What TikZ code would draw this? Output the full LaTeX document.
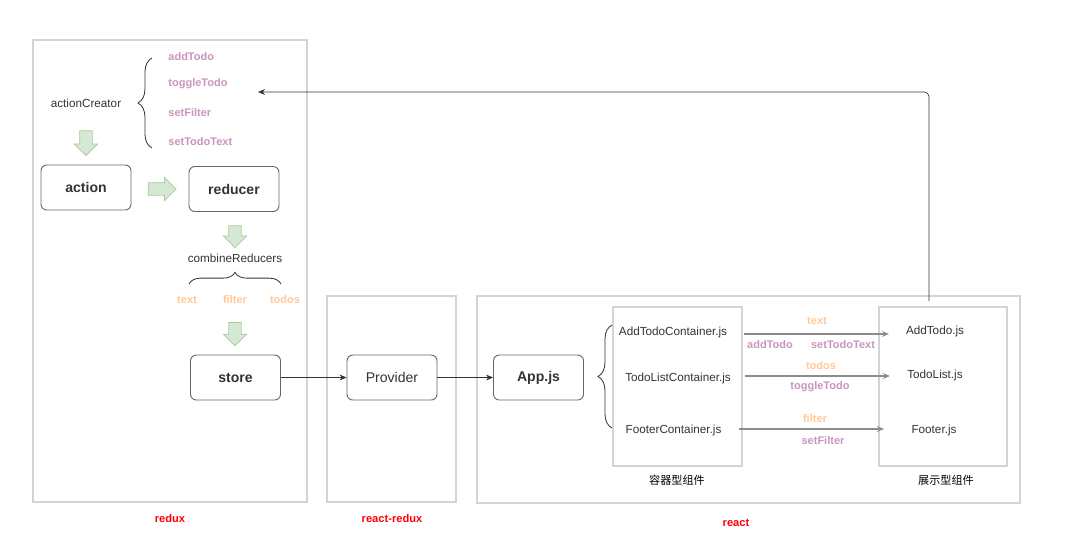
\documentclass[tikz,border=0pt]{standalone}
\usepackage{fontspec}
\setmainfont{Liberation Sans}
\newfontfamily\cjk{Noto Sans CJK SC}
\usetikzlibrary{arrows.meta,shapes.arrows,decorations.pathreplacing,positioning}

\definecolor{txt}{HTML}{333333}
\definecolor{pinktxt}{HTML}{C995BD}
\definecolor{orangetxt}{HTML}{FFC898}
\definecolor{grpline}{HTML}{D4D4D4}
\definecolor{boxline}{HTML}{666666}
\definecolor{flowfill}{HTML}{D5E8D4}
\definecolor{flowline}{HTML}{A8CC98}
\definecolor{garrowline}{HTML}{8C8C8C}
\definecolor{grpname}{HTML}{FF0000}

\begin{document}
\begin{tikzpicture}[x=0.03cm,y=-0.03cm]
      \tikzstyle{grp}=[draw=grpline,line width=1.2pt]
      \tikzstyle{box}=[rectangle,rounded corners=5pt,draw=boxline,line width=0.8pt,minimum width=2.7cm,minimum height=1.35cm,text=txt,font=\fontsize{12}{14}\selectfont]
      \tikzstyle{lbl}=[text=txt,font=\fontsize{10}{12}\selectfont,inner sep=1pt]
      \tikzstyle{act}=[text=pinktxt,font=\bfseries\fontsize{9.4}{11}\selectfont,inner sep=1pt]
      \tikzstyle{part}=[text=orangetxt,font=\bfseries\fontsize{9.4}{11}\selectfont,inner sep=1pt]
      \tikzstyle{grplbl}=[text=grpname,font=\bfseries\fontsize{9.5}{11}\selectfont]
      \tikzstyle{cjklbl}=[text=black,font=\cjk\fontsize{9.5}{11}\selectfont]
      \tikzstyle{flow}=[single arrow,draw=flowline,fill=flowfill,line width=0.6pt,inner xsep=0pt,inner ysep=0.18cm,minimum height=0.75cm,single arrow head extend=0.16cm]
      \tikzstyle{flowdown}=[flow,shape border rotate=270,inner xsep=0.18cm,inner ysep=0pt]
      \tikzstyle{brc}=[draw=txt,line width=0.7pt,decorate]
      \tikzstyle{link}=[draw=txt,line width=0.6pt,-{Stealth[length=6pt,width=5pt]}]
      \tikzstyle{garrow}=[draw=garrowline,line width=1.6pt,-{Stealth[length=6pt,width=5pt]}]

      \useasboundingbox (0,0) rectangle (1070,549);

      % groups
      \draw[grp] (33,40) rectangle (307,502);
      \draw[grp] (327,296) rectangle (456,502);
      \draw[grp] (477,296) rectangle (1020,503);
      \draw[grp] (613,307) rectangle (742,466);
      \draw[grp] (879,307) rectangle (1007,466);
      \node[grplbl] (reduxlbl) at (170,519) {redux};
      \node[grplbl] (reactreduxlbl) at (392,519) {react-redux};
      \node[grplbl] (reactlbl) at (736,523) {react};

      % redux
      \node[lbl] (creator) at (86,103) {actionCreator};
      \draw[brc,decoration={brace,amplitude=12pt}] (152,148) -- (152,58);
      \node[act,anchor=west] (addtodo) at (167,57) {addTodo};
      \node[act,anchor=west] (toggletodo) at (167,84) {toggleTodo};
      \node[act,anchor=west] (setfilter) at (167,113) {setFilter};
      \node[act,anchor=west] (settext) at (167,142) {setTodoText};
      \coordinate (creatorin) at (258,92);

      \node[flowdown] (flow1) at (86,140) {};
      \node[box,font=\bfseries\fontsize{12}{14}\selectfont] (action) at (86,187.5) {action};
      \node[flow,minimum height=0.84cm] (flow2) at (159,189) {};
      \node[box,font=\bfseries\fontsize{12}{14}\selectfont] (reducer) at (234,189) {reducer};
      \node[flowdown,minimum height=0.66cm] (flow3) at (235,233.5) {};
      \node[lbl] (combine) at (235,258) {combineReducers};
      \draw[brc,decoration={brace,amplitude=10pt}] (189,284) -- (281,284);
      \node[part] (ptext) at (187,300) {text};
      \node[part] (pfilter) at (235,300) {filter};
      \node[part] (ptodos) at (285,300) {todos};
      \node[flowdown,minimum height=0.7cm] (flow4) at (235,331) {};
      \node[box,font=\bfseries\fontsize{12}{14}\selectfont] (store) at (235.5,377.5) {store};

      % react-redux
      \node[box] (provider) at (392,377.5) {Provider};

      % react
      \node[box,font=\bfseries\fontsize{12}{14}\selectfont] (app) at (538.5,377.5) {App.js};
      \draw[brc,decoration={brace,amplitude=12pt}] (612,428) -- (612,325);
      \node[lbl] (addcont) at (673,332) {AddTodoContainer.js};
      \node[lbl] (listcont) at (678,378) {TodoListContainer.js};
      \node[lbl] (footcont) at (673.5,430) {FooterContainer.js};
      \node[cjklbl] (contlbl) at (677,480) {容器型组件};
      \node[lbl] (addcomp) at (935,331) {AddTodo.js};
      \node[lbl] (listcomp) at (935,375) {TodoList.js};
      \node[lbl] (footcomp) at (934,430) {Footer.js};
      \node[cjklbl] (complbl) at (946,480) {展示型组件};

      \coordinate (addout) at (744,334);
      \coordinate (addin) at (889,334);
      \coordinate (listout) at (745,376);
      \coordinate (listin) at (890,376);
      \coordinate (footout) at (739,429);
      \coordinate (footin) at (884,429);
      \coordinate (retstart) at (929,301);

      \node[part] (ltext) at (817,321) {text};
      \node[act] (laddtodo) at (770,345) {addTodo};
      \node[act] (lsettext) at (843,345) {setTodoText};
      \node[part] (ltodos) at (821,366) {todos};
      \node[act] (ltoggle) at (820,387) {toggleTodo};
      \node[part] (lfilter) at (815,419) {filter};
      \node[act] (lsetfilter) at (823,441) {setFilter};

      % connectors
      \draw[link] (store) -- (provider);
      \draw[link] (provider) -- (app);
      \draw[garrow] (addout) -- (addin);
      \draw[garrow] (listout) -- (listin);
      \draw[garrow] (footout) -- (footin);
      \draw[link,rounded corners=4pt] (retstart) |- (creatorin);
\end{tikzpicture}
\end{document}
